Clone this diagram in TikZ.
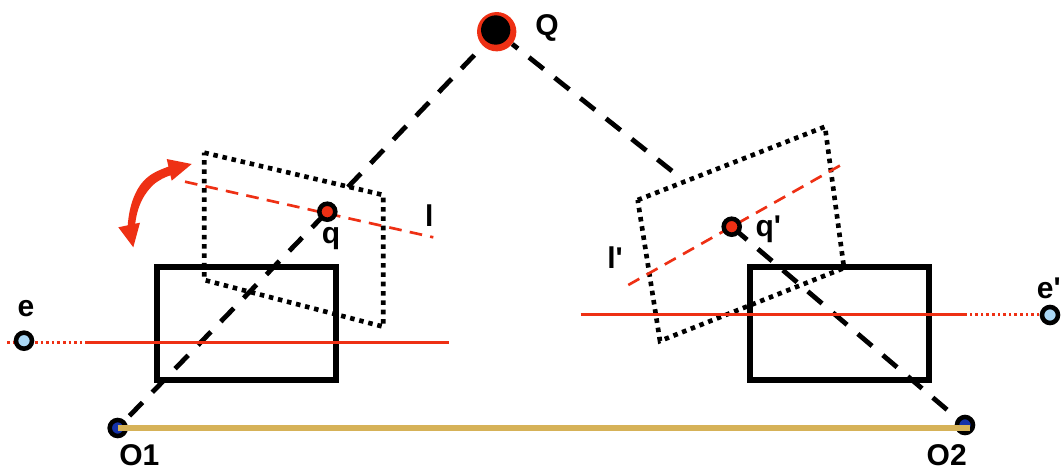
\documentclass[tikz,border=0pt]{standalone}
\usepackage{fontspec}
\setmainfont{Liberation Sans}
\definecolor{rd}{RGB}{238,48,20}
\definecolor{gold}{RGB}{214,178,88}
\definecolor{ptblue}{RGB}{20,50,170}
\definecolor{ltblue}{RGB}{170,215,245}
\tikzset{
  ray/.style={black,line width=3.6pt,dash pattern=on 14pt off 10.6pt},
  plane/.style={black,line width=3.5pt,dash pattern=on 3.4pt off 3.6pt},
  image/.style={black,line width=4.6pt},
  epi/.style={rd,line width=2pt,dash pattern=on 9.5pt off 6.2pt},
  base/.style={rd,line width=2pt},
  ext/.style={rd,line width=2pt,dash pattern=on 2pt off 2.2pt},
  pt/.style={circle,draw=black,line width=3.4pt,inner sep=0pt,minimum size=12pt},
  lab/.style={font=\bfseries\fontsize{22.5}{24}\selectfont,inner sep=0pt,anchor=base,text=black},
}
\begin{document}
\begin{tikzpicture}[x=0.75pt,y=-0.75pt]
\useasboundingbox (0,0) rectangle (1061,468);
% coordinates
\coordinate (q1top) at (348,187);
\coordinate (q2top) at (672,171);
\coordinate (ext1) at (7,342.3);
\coordinate (b1s) at (88.3,342.3);
\coordinate (b1e) at (449,342.3);
\coordinate (b2s) at (580.7,314.5);
\coordinate (b2e) at (965,314.5);
\coordinate (ext2) at (1045,314.5);
% points
\node[circle,fill=rd,inner sep=0pt,minimum size=29.5pt] (Qo) at (496.7,31.7) {};
\node[pt,fill=ptblue] (O1) at (117.7,428) {};
\node[pt,fill=ptblue] (O2) at (965,425) {};
% rays
\draw[ray,shorten <=5pt] (O1) -- (327.3,211.7) coordinate (qr);
\draw[ray] (q1top) -- (Qo);
\draw[ray,shorten <=10pt] (O2) -- (731.7,226.7) coordinate (qpr);
\draw[ray] (q2top) -- (Qo);
\node[circle,fill=black,inner sep=0pt,minimum size=22pt] (Qi) at (495.7,30) {};
% image planes
\draw[plane] (204.3,152.7) -- (383.3,195) -- (383.3,326.7) -- (204.3,280) -- cycle;
\draw[plane] (637.7,200) -- (825,126.7) -- (844,268) -- (660,341) -- cycle;
\draw[image] (157.3,267) rectangle (336,379.7);
\draw[image] (750.3,267) rectangle (928.7,379.7);
% epipolar lines
\coordinate (l1a) at (185,181.7);
\coordinate (l1b) at (433.3,237.3);
\coordinate (l2a) at (628.3,285);
\coordinate (l2b) at (844,163.3);
\draw[epi] (l1a) -- (l1b);
\draw[epi] (l2a) -- (l2b);
\draw[base] (b1s) -- (b1e);
\draw[base] (b2s) -- (b2e);
\draw[ext] (ext1) -- (b1s);
\draw[ext] (ext2) -- (b2e);
% baseline
\draw[gold,line width=3.8pt] (O1.center) -- (970,428);
% points on top
\node[pt,fill=rd] (q) at (327.3,211.7) {};
\node[pt,fill=rd] (qp) at (731.7,226.7) {};
\node[pt,fill=ltblue] (e) at (24,340.7) {};
\node[pt,fill=ltblue] (ep) at (1050,315) {};
% rotation arrow
\fill[rd] (127.7,226) .. controls (129,205) and (136,186) .. (148.3,176.7) .. controls (154,172) and (162,169) .. (170,166)
  -- (172,175) .. controls (164,177) and (160,180) .. (155,183.3) .. controls (145,192) and (137,205) .. (135,226) -- cycle;
\fill[rd] (118.3,227.3) -- (133.3,247.3) -- (140,222.7) -- cycle;
\fill[rd] (166.7,159) -- (191.7,164) -- (171.7,180.7) -- cycle;
% labels
\node[lab] (tQ) at (547,35) {Q};
\node[lab] (tq) at (331,243) {q};
\node[lab] (tl) at (429.3,226) {l};
\node[lab] (tqp) at (768.3,236.7) {q\textquotesingle};
\node[lab] (tlp) at (615,268) {l\textquotesingle};
\node[lab] (te) at (26,316.7) {e};
\node[lab,anchor=base east] (tep) at (1061,298) {e\textquotesingle};
\node[lab] (tO1) at (139.3,465) {O1};
\node[lab] (tO2) at (946.7,465) {O2};
\end{tikzpicture}
\end{document}
